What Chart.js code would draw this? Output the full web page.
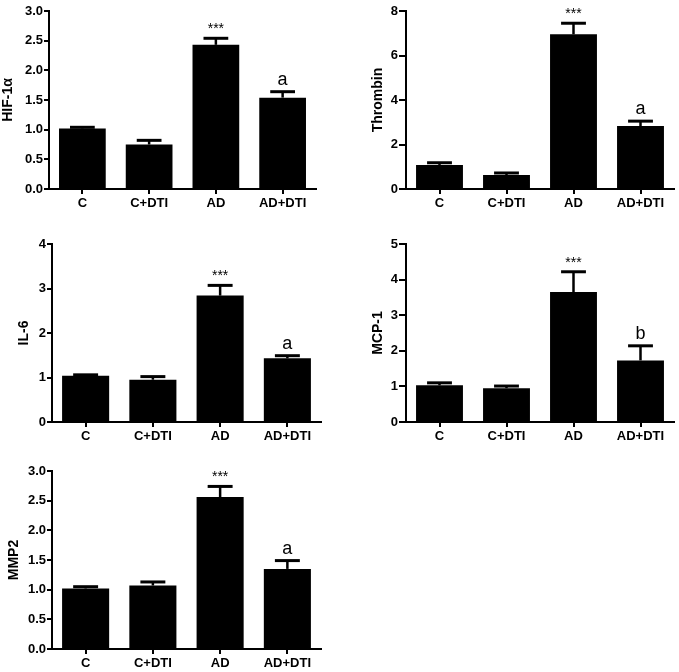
<!DOCTYPE html>
<html>
<head>
<meta charset="utf-8">
<script src="https://cdn.jsdelivr.net/npm/chart.js@4.4.1/dist/chart.umd.min.js"></script>
<style>
    body { margin: 0; background: #fff; }
    canvas { position: absolute; }
</style>
</head>
<body>
<canvas id="c1" width="335" height="218" style="left:0px;top:0px"></canvas>
<canvas id="c2" width="339" height="218" style="left:340px;top:0px"></canvas>
<canvas id="c3" width="335" height="228" style="left:0px;top:220px"></canvas>
<canvas id="c4" width="339" height="228" style="left:340px;top:220px"></canvas>
<canvas id="c5" width="335" height="232" style="left:0px;top:440px"></canvas>
<script>
const grupos = ['C', 'C+DTI', 'AD', 'AD+DTI'];

const hif = [1.02, 0.75, 2.43, 1.54];
const hifErr = [0.02, 0.07, 0.11, 0.10];
const hifMarks = ['', '', '***', 'a'];

const thrombin = [1.08, 0.63, 6.95, 2.83];
const thrombinErr = [0.10, 0.09, 0.50, 0.22];
const thrombinMarks = ['', '', '***', 'a'];

const il6 = [1.04, 0.95, 2.84, 1.43];
const il6Err = [0.02, 0.07, 0.23, 0.06];
const il6Marks = ['', '', '***', 'a'];

const mcp1 = [1.03, 0.95, 3.65, 1.73];
const mcp1Err = [0.07, 0.06, 0.57, 0.41];
const mcp1Marks = ['', '', '***', 'b'];

const mmp2 = [1.02, 1.07, 2.56, 1.35];
const mmp2Err = [0.03, 0.06, 0.18, 0.14];
const mmp2Marks = ['', '', '***', 'a'];

const FONT = '"Liberation Sans", Arial, sans-serif';

// error bars + significance letters
const errorBars = {
    id: 'error_bars',
    afterDatasetsDraw: (chart) => {
        const ctx = chart.ctx;
        const yScale = chart.scales.y;
        const ds = chart.data.datasets[0];
        const meta = chart.getDatasetMeta(0);
        ctx.save();
        ctx.strokeStyle = 'black';
        meta.data.forEach((bar, i) => {
            const yTop = yScale.getPixelForValue(ds.data[i] + ds.errors[i]);
            const capW = bar.width * 0.53;
            ctx.lineWidth = 2.5;
            ctx.beginPath();
            ctx.moveTo(bar.x, bar.y);
            ctx.lineTo(bar.x, yTop);
            ctx.stroke();
            ctx.lineWidth = 3;
            ctx.beginPath();
            ctx.moveTo(bar.x - capW / 2, yTop);
            ctx.lineTo(bar.x + capW / 2, yTop);
            ctx.stroke();
            const mark = ds.marks[i];
            if (mark) {
                ctx.fillStyle = 'black';
                ctx.textAlign = 'center';
                ctx.textBaseline = 'alphabetic';
                if (mark === '***') {
                    ctx.font = '14px ' + FONT;
                    ctx.fillText(mark, bar.x, yTop - 5);
                } else {
                    ctx.font = '18px ' + FONT;
                    ctx.fillText(mark, bar.x, yTop - 7);
                }
            }
        });
        ctx.restore();
    }
};

function PanelGenerator(id, title, values, errors, marks, maxY, step, decimals, box) {
    const canvas = document.getElementById(id);
    new Chart(canvas, {
        type: 'bar',
        plugins: [errorBars],
        data: {
            labels: grupos,
            datasets: [{
                data: values,
                errors: errors,
                marks: marks,
                backgroundColor: 'black',
                borderWidth: 0,
                barPercentage: 0.7,
                categoryPercentage: 1.0
            }]
        },
        options: {
            responsive: false,
            animation: false,
            layout: {
                padding: { left: box.padL, top: box.top, right: canvas.width - box.right, bottom: 0 }
            },
            scales: {
                y: {
                    min: 0,
                    max: maxY,
                    afterFit: (scale) => { scale.width = box.axisX - box.padL; },
                    ticks: {
                        stepSize: step,
                        color: 'black',
                        padding: 1,
                        font: { family: FONT, size: 13, weight: 'bold' },
                        callback: (value) => value.toFixed(decimals)
                    },
                    grid: {
                        drawOnChartArea: false,
                        drawTicks: true,
                        tickLength: box.tick,
                        color: 'black',
                        lineWidth: 2
                    },
                    border: { display: true, color: 'black', width: 2 },
                    title: {
                        display: true,
                        text: title,
                        color: 'black',
                        padding: { top: 0, bottom: 0 },
                        font: { family: FONT, size: 14, weight: 'bold' }
                    }
                },
                x: {
                    afterFit: (scale) => { scale.height = canvas.height - box.bottom; },
                    ticks: {
                        color: 'black',
                        padding: 2,
                        font: { family: FONT, size: 13, weight: 'bold' }
                    },
                    grid: {
                        offset: false,
                        drawOnChartArea: false,
                        drawTicks: true,
                        tickLength: 5,
                        color: 'black',
                        lineWidth: 2
                    },
                    border: { display: true, color: 'black', width: 2 }
                }
            },
            plugins: {
                legend: { display: false },
                tooltip: { enabled: false }
            }
        }
    });
}

PanelGenerator('c1', 'HIF-1α', hif, hifErr, hifMarks, 3, 0.5, 1,
    { padL: 0, axisX: 49, right: 316, top: 11, bottom: 189, tick: 5 });
PanelGenerator('c2', 'Thrombin', thrombin, thrombinErr, thrombinMarks, 8, 2, 0,
    { padL: 30, axisX: 66, right: 334, top: 11, bottom: 189, tick: 7 });
PanelGenerator('c3', 'IL-6', il6, il6Err, il6Marks, 4, 1, 0,
    { padL: 16, axisX: 52, right: 321, top: 24, bottom: 202, tick: 5 });
PanelGenerator('c4', 'MCP-1', mcp1, mcp1Err, mcp1Marks, 5, 1, 0,
    { padL: 30, axisX: 66, right: 334, top: 24, bottom: 202, tick: 7 });
PanelGenerator('c5', 'MMP2', mmp2, mmp2Err, mmp2Marks, 3, 0.5, 1,
    { padL: 6, axisX: 52, right: 321, top: 31, bottom: 209, tick: 5 });
</script>
</body>
</html>
